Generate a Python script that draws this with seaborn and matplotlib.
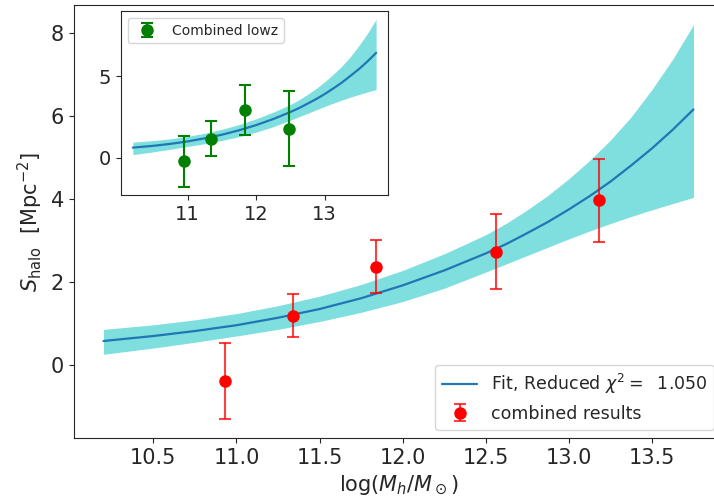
import matplotlib
matplotlib.use("Agg")
import matplotlib.pyplot as plt
import seaborn as sns

sns.set_style("ticks")
plt.rcParams["font.family"] = ["DejaVu Sans"]

# Halo-mass grid on which the fitted profile is tabulated
fit_logm = [10.2, 10.5, 10.75, 11.0, 11.25, 11.5, 11.75, 12.0, 12.25,
            12.5, 12.625, 12.75, 12.875, 13.0, 13.125, 13.25, 13.375,
            13.5, 13.625, 13.75]

# Best-fit profile and its confidence band (main panel)
fit_s = [0.59, 0.71, 0.83, 0.97, 1.15, 1.36, 1.62, 1.93, 2.29,
         2.70, 2.93, 3.19, 3.46, 3.76, 4.08, 4.43, 4.82,
         5.23, 5.68, 6.17]
fit_s_hi = [0.87, 0.98, 1.10, 1.25, 1.44, 1.67, 1.95, 2.29, 2.69,
            3.15, 3.43, 3.75, 4.10, 4.50, 4.94, 5.43, 5.99,
            6.65, 7.38, 8.21]
fit_s_lo = [0.27, 0.42, 0.56, 0.71, 0.87, 1.06, 1.28, 1.54, 1.86,
            2.25, 2.45, 2.65, 2.85, 3.05, 3.24, 3.42, 3.59,
            3.75, 3.90, 4.05]
reduced_chi2 = 1.050

# Combined measurements
comb_logm = [10.93, 11.34, 11.84, 12.56, 13.18]
comb_s = [-0.37, 1.20, 2.38, 2.74, 3.98]
comb_err = [0.91, 0.52, 0.64, 0.90, 1.00]

# Low-z subsample and its fit (inset)
lowz_fit_s = [0.63, 0.74, 0.86, 1.01, 1.20, 1.42, 1.69, 2.01, 2.38,
              2.81, 3.05, 3.32, 3.60, 3.91, 4.25, 4.61, 5.02,
              5.44, 5.91, 6.43]
lowz_fit_hi = [0.96, 1.06, 1.17, 1.32, 1.51, 1.75, 2.04, 2.39, 2.80,
               3.27, 3.56, 3.89, 4.25, 4.66, 5.12, 5.62, 6.20,
               6.88, 7.63, 8.48]
lowz_fit_lo = [0.20, 0.37, 0.53, 0.70, 0.87, 1.07, 1.30, 1.58, 1.91,
               2.31, 2.52, 2.73, 2.94, 3.15, 3.35, 3.54, 3.72,
               3.88, 4.04, 4.18]
lowz_logm = [10.94, 11.34, 11.83, 12.48]
lowz_s = [-0.21, 1.17, 2.93, 1.78]
lowz_err = [1.55, 1.07, 1.55, 2.30]

fig = plt.figure(figsize=(7.14, 5.03), dpi=100)

# ---- main panel ----
ax = fig.add_axes([0.1036, 0.1286, 0.909, 0.8614])
ax.fill_between(fit_logm, fit_s_lo, fit_s_hi, color="c", alpha=0.5, lw=0)
sns.lineplot(x=fit_logm, y=fit_s, ax=ax, color="#1f77b4", lw=1.6,
             label=r"Fit, Reduced $\chi^2 = $  " + f"{reduced_chi2:.3f}")
ax.errorbar(comb_logm, comb_s, yerr=comb_err, fmt="o", color="red",
            ecolor=(1, 0, 0, 0.75), ms=8, capsize=4, elinewidth=1.5,
            capthick=1.5, label="combined results")
ax.set_xlabel(r"log($M_h/M_\odot$)", fontsize=15)
ax.set_ylabel(r"$S_{\rm halo}$  [Mpc$^{-2}$]", fontsize=15)
ax.tick_params(labelsize=15)
ax.legend(loc="lower right", fontsize=12.5)

# ---- inset: low-z subsample ----
ins = fig.add_axes([0.169, 0.6123, 0.3748, 0.3658])
ins.fill_between(fit_logm, lowz_fit_lo, lowz_fit_hi, color="c", alpha=0.5, lw=0)
sns.lineplot(x=fit_logm, y=lowz_fit_s, ax=ins, color="#1f77b4", lw=1.6,
             legend=False)
ins.errorbar(lowz_logm, lowz_s, yerr=lowz_err, fmt="o", color="green",
             ms=8, capsize=4, elinewidth=1.5, capthick=1.5,
             label="Combined lowz")
ins.set_xticks([11, 12, 13])
ins.set_yticks([0, 5])
ins.tick_params(labelsize=14)
ins.legend(loc="upper left", fontsize=10)

fig.savefig("out.png", dpi=100)
